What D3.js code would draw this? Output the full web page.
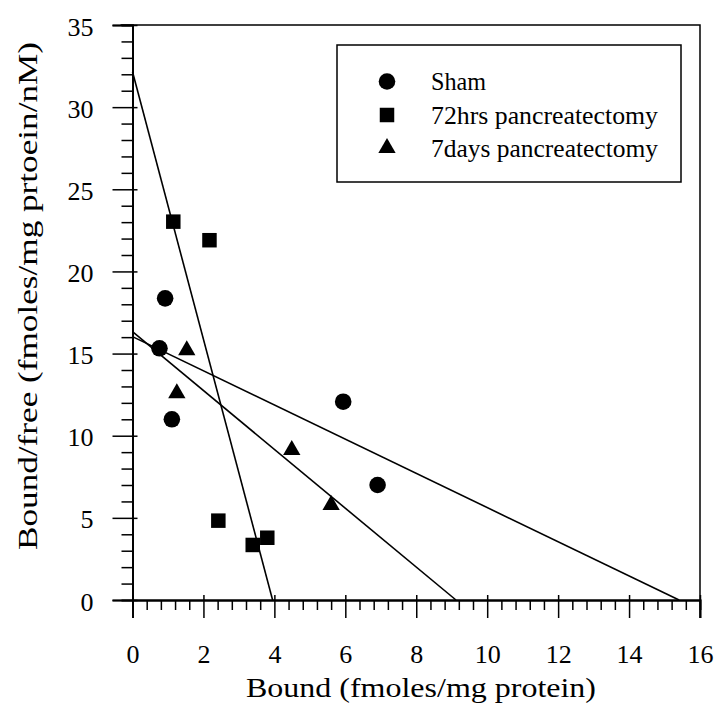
<!DOCTYPE html>
<html><head><meta charset="utf-8">
<script src="https://cdn.jsdelivr.net/npm/d3@7"></script>
<style>body{margin:0;background:#fff}svg{display:block}</style>
</head><body>
<script>
// Data
const shamX = [0.92, 0.76, 1.11, 5.94, 6.91];
const shamY = [18.36, 15.32, 11.0, 12.07, 7.0];
const hrs72X = [1.15, 2.17, 2.42, 3.39, 3.80];
const hrs72Y = [23.03, 21.9, 4.83, 3.35, 3.79];
const days7X = [1.53, 1.25, 4.49, 5.6];
const days7Y = [15.2, 12.58, 9.13, 5.78];
// Regression lines: [y-intercept, x-intercept]
const lineSham = [16.03, 15.41];
const line72 = [32.15, 3.95];
const line7d = [16.33, 9.12];
const xTicks = [0, 2, 4, 6, 8, 10, 12, 14, 16];
const yTicks = [0, 5, 10, 15, 20, 25, 30, 35];
const legendLabels = ["Sham", "72hrs pancreatectomy", "7days pancreatectomy"];
const xTitle = "Bound (fmoles/mg protein)";
const yTitle = "Bound/free (fmoles/mg prtoein/nM)";

const W = 718, H = 710;
const mL = 132.5, mR = 700, mT = 25, mB = 600;
const font = "'Liberation Serif', 'Times New Roman', serif";

const svg = d3.select("body").append("svg").attr("width", W).attr("height", H);
const x = d3.scaleLinear().domain([0, 16]).range([mL, mR]);
const y = d3.scaleLinear().domain([0, 35]).range([mB, mT]);

// frame (top and right)
svg.append("path")
  .attr("d", `M${x(0) - 12},${y(35)}H${x(16)}V${y(0) + 18}`)
  .attr("fill", "none").attr("stroke", "#000").attr("stroke-width", 1.5);

const xMinor = d3.range(0, 16.001, 0.4).filter(v => Math.abs(v / 2 - Math.round(v / 2)) > 1e-6);
const xMinAx = svg.append("g").attr("transform", `translate(0,${mB})`)
  .call(d3.axisBottom(x).tickValues(xMinor).tickSize(10).tickFormat(""));
const xAx = svg.append("g").attr("transform", `translate(0,${mB})`)
  .call(d3.axisBottom(x).tickValues(xTicks).tickSize(18).tickFormat(d3.format("d")));
const yMinor = d3.range(0, 35.001, 1).filter(v => v % 5 !== 0);
const yMinAx = svg.append("g").attr("transform", `translate(${mL},0)`)
  .call(d3.axisLeft(y).tickValues(yMinor).tickSize(11).tickFormat(""));
const yAx = svg.append("g").attr("transform", `translate(${mL},0)`)
  .call(d3.axisLeft(y).tickValues(yTicks).tickSize(20).tickFormat(d3.format("d")));

[xMinAx, xAx, yMinAx, yAx].forEach(g => {
  g.select(".domain").attr("stroke", "#000").attr("stroke-width", 1.8);
  g.selectAll(".tick line").attr("stroke", "#000").attr("stroke-width", 1.5);
  g.selectAll("text").attr("font-family", font).attr("font-size", 26).attr("fill", "#000");
});
xAx.selectAll(".tick line").attr("y1", -5);
yAx.selectAll(".tick line").attr("x1", 5);
xAx.selectAll(".tick text").attr("y", 63).attr("dy", null);
yAx.selectAll(".tick text").attr("x", -39).attr("dy", 10);

// axis titles
svg.append("text").attr("x", 421).attr("y", 697)
  .attr("text-anchor", "middle").attr("font-family", font).attr("font-size", 28)
  .attr("textLength", 350).attr("lengthAdjust", "spacingAndGlyphs")
  .text(xTitle);
svg.append("text").attr("transform", `translate(37,296) rotate(-90)`)
  .attr("text-anchor", "middle").attr("font-family", font).attr("font-size", 28)
  .attr("textLength", 508).attr("lengthAdjust", "spacingAndGlyphs")
  .text(yTitle);

// regression lines
const lines = [lineSham, line72, line7d];
svg.append("g").selectAll("line").data(lines).join("line")
  .attr("x1", x(0)).attr("y1", d => y(d[0]))
  .attr("x2", d => x(d[1])).attr("y2", y(0))
  .attr("stroke", "#000").attr("stroke-width", 1.6);

// markers
const circ = d3.symbol().type(d3.symbolCircle).size(Math.PI * 8.3 * 8.3);
const sq = d3.symbol().type(d3.symbolSquare).size(14.5 * 14.5);
const tri = d3.symbol().type(d3.symbolTriangle).size(130);
const series = [
  { xs: shamX, ys: shamY, sym: circ },
  { xs: hrs72X, ys: hrs72Y, sym: sq },
  { xs: days7X, ys: days7Y, sym: tri }
];
series.forEach(s => {
  svg.append("g").selectAll("path").data(s.xs.map((v, i) => [v, s.ys[i]])).join("path")
    .attr("d", s.sym).attr("transform", d => `translate(${x(d[0])},${y(d[1])})`)
    .attr("fill", "#000");
});

// legend
const lg = svg.append("g");
lg.append("rect").attr("x", 337).attr("y", 45).attr("width", 344).attr("height", 137)
  .attr("fill", "#fff").attr("stroke", "#000").attr("stroke-width", 1.5);
const rowY = [81.5, 115, 148];
const legLen = [55, 227, 227];
const legSyms = [circ, sq, tri];
legendLabels.forEach((t, i) => {
  lg.append("path").attr("d", legSyms[i]).attr("transform", `translate(387,${rowY[i]})`).attr("fill", "#000");
  lg.append("text").attr("x", 431).attr("y", rowY[i] + 8.5).attr("font-family", font)
    .attr("font-size", 25).attr("textLength", legLen[i]).attr("lengthAdjust", "spacingAndGlyphs")
    .text(t);
});
</script>
</body></html>
